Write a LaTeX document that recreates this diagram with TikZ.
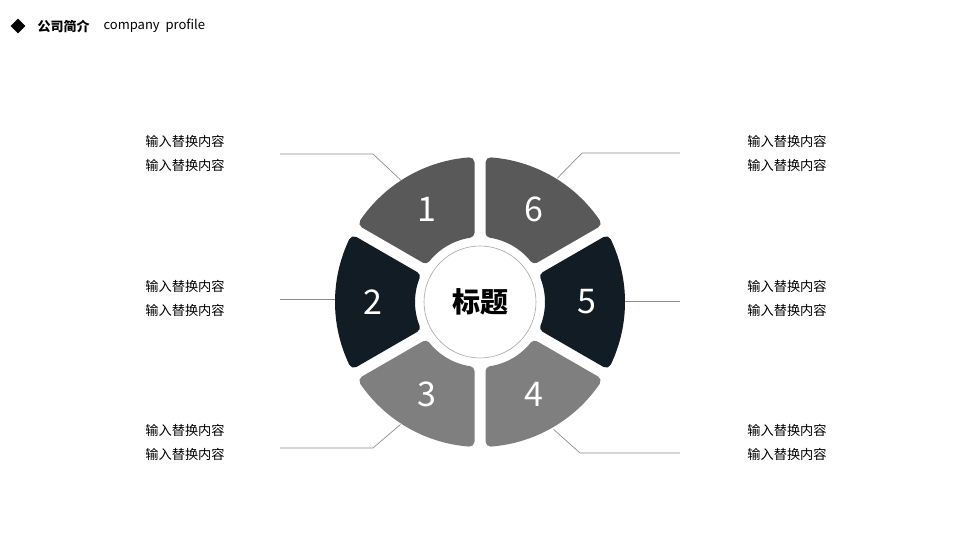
\documentclass[tikz,border=0pt]{standalone}
\usepackage{fontspec}
\setmainfont{Noto Sans CJK SC}
\usetikzlibrary{positioning,shapes.geometric}
\definecolor{segdark}{HTML}{111C25}
\definecolor{segmid}{HTML}{595959}
\definecolor{seglight}{HTML}{7F7F7F}
\definecolor{leadgray}{HTML}{8C8C8C}

\begin{document}
\begin{tikzpicture}[x=1pt,y=1pt]
\tikzstyle{segment}=[line width=10pt,line join=round]
\tikzstyle{leader}=[draw=leadgray,line width=0.7pt]
\tikzstyle{digit}=[text=white,font=\fontsize{34}{40}\selectfont]
\tikzstyle{note}=[align=center,font=\fontsize{13.2}{24}\selectfont]

\useasboundingbox (0,0) rectangle (960,548);
\coordinate (c) at (480,246);

% header
\node[diamond,fill=black,minimum size=15pt,inner sep=0] (mark) at (18,522) {};
\node[anchor=west,font=\bfseries\fontsize{13}{15}\selectfont] (head) at (34,522) {公司简介};
\node[right=7pt of head,font=\fontsize{13}{15}\selectfont] (sub) {company\ \ profile};

% ring of segments
\foreach \a/\col/\n in {120/segmid/1,180/segdark/2,240/seglight/3,300/seglight/4,0/segdark/5,60/segmid/6}{
  \pgfmathsetmacro{\oa}{\a+30-asin(10.5/140)}
  \pgfmathsetmacro{\ob}{\a-30+asin(10.5/140)}
  \pgfmathsetmacro{\ia}{\a-30+asin(10.5/70)}
  \pgfmathsetmacro{\ib}{\a+30-asin(10.5/70)}
  \filldraw[segment,fill=\col,draw=\col]
    ([shift={(c)}]\oa:140) arc[start angle=\oa,end angle=\ob,radius=140]
    -- ([shift={(c)}]\ia:70) arc[start angle=\ia,end angle=\ib,radius=70]
    -- cycle;
  \node[digit] (d\n) at ([shift={(c)}]\a:107) {\n};
}

\node[circle,draw=gray!70,fill=white,line width=0.6pt,minimum size=112pt,inner sep=0,
  font=\bfseries\fontsize{28}{30}\selectfont] (title) at (c) {标题};

% leader lines
\coordinate (e1) at ([shift={(c)}]123:145);
\coordinate (k1) at (373,394);
\coordinate (m1) at (280,394);
\coordinate (e2) at (335,249);
\coordinate (m2) at (280,249);
\coordinate (e3) at ([shift={(c)}]237:146);
\coordinate (k3) at (373,100);
\coordinate (m3) at (280,100);
\coordinate (e4) at ([shift={(c)}]300:147);
\coordinate (k4) at (580,95);
\coordinate (m4) at (680,95);
\coordinate (e5) at (625,247);
\coordinate (m5) at (680,247);
\coordinate (e6) at ([shift={(c)}]58:146);
\coordinate (k6) at (582,395);
\coordinate (m6) at (680,395);

\draw[leader] (e1) -- (k1) -- (m1);
\draw[leader] (e2) -- (m2);
\draw[leader] (e3) -- (k3) -- (m3);
\draw[leader] (e4) -- (k4) -- (m4);
\draw[leader] (e5) -- (m5);
\draw[leader] (e6) -- (k6) -- (m6);

% texts
\node[note] (n1) at (185,395) {输入替换内容\\输入替换内容};
\node[note] (n2) at (185,250) {输入替换内容\\输入替换内容};
\node[note] (n3) at (185,106) {输入替换内容\\输入替换内容};
\node[note] (n4) at (787,106) {输入替换内容\\输入替换内容};
\node[note] (n5) at (787,250) {输入替换内容\\输入替换内容};
\node[note] (n6) at (787,395) {输入替换内容\\输入替换内容};
\end{tikzpicture}
\end{document}
